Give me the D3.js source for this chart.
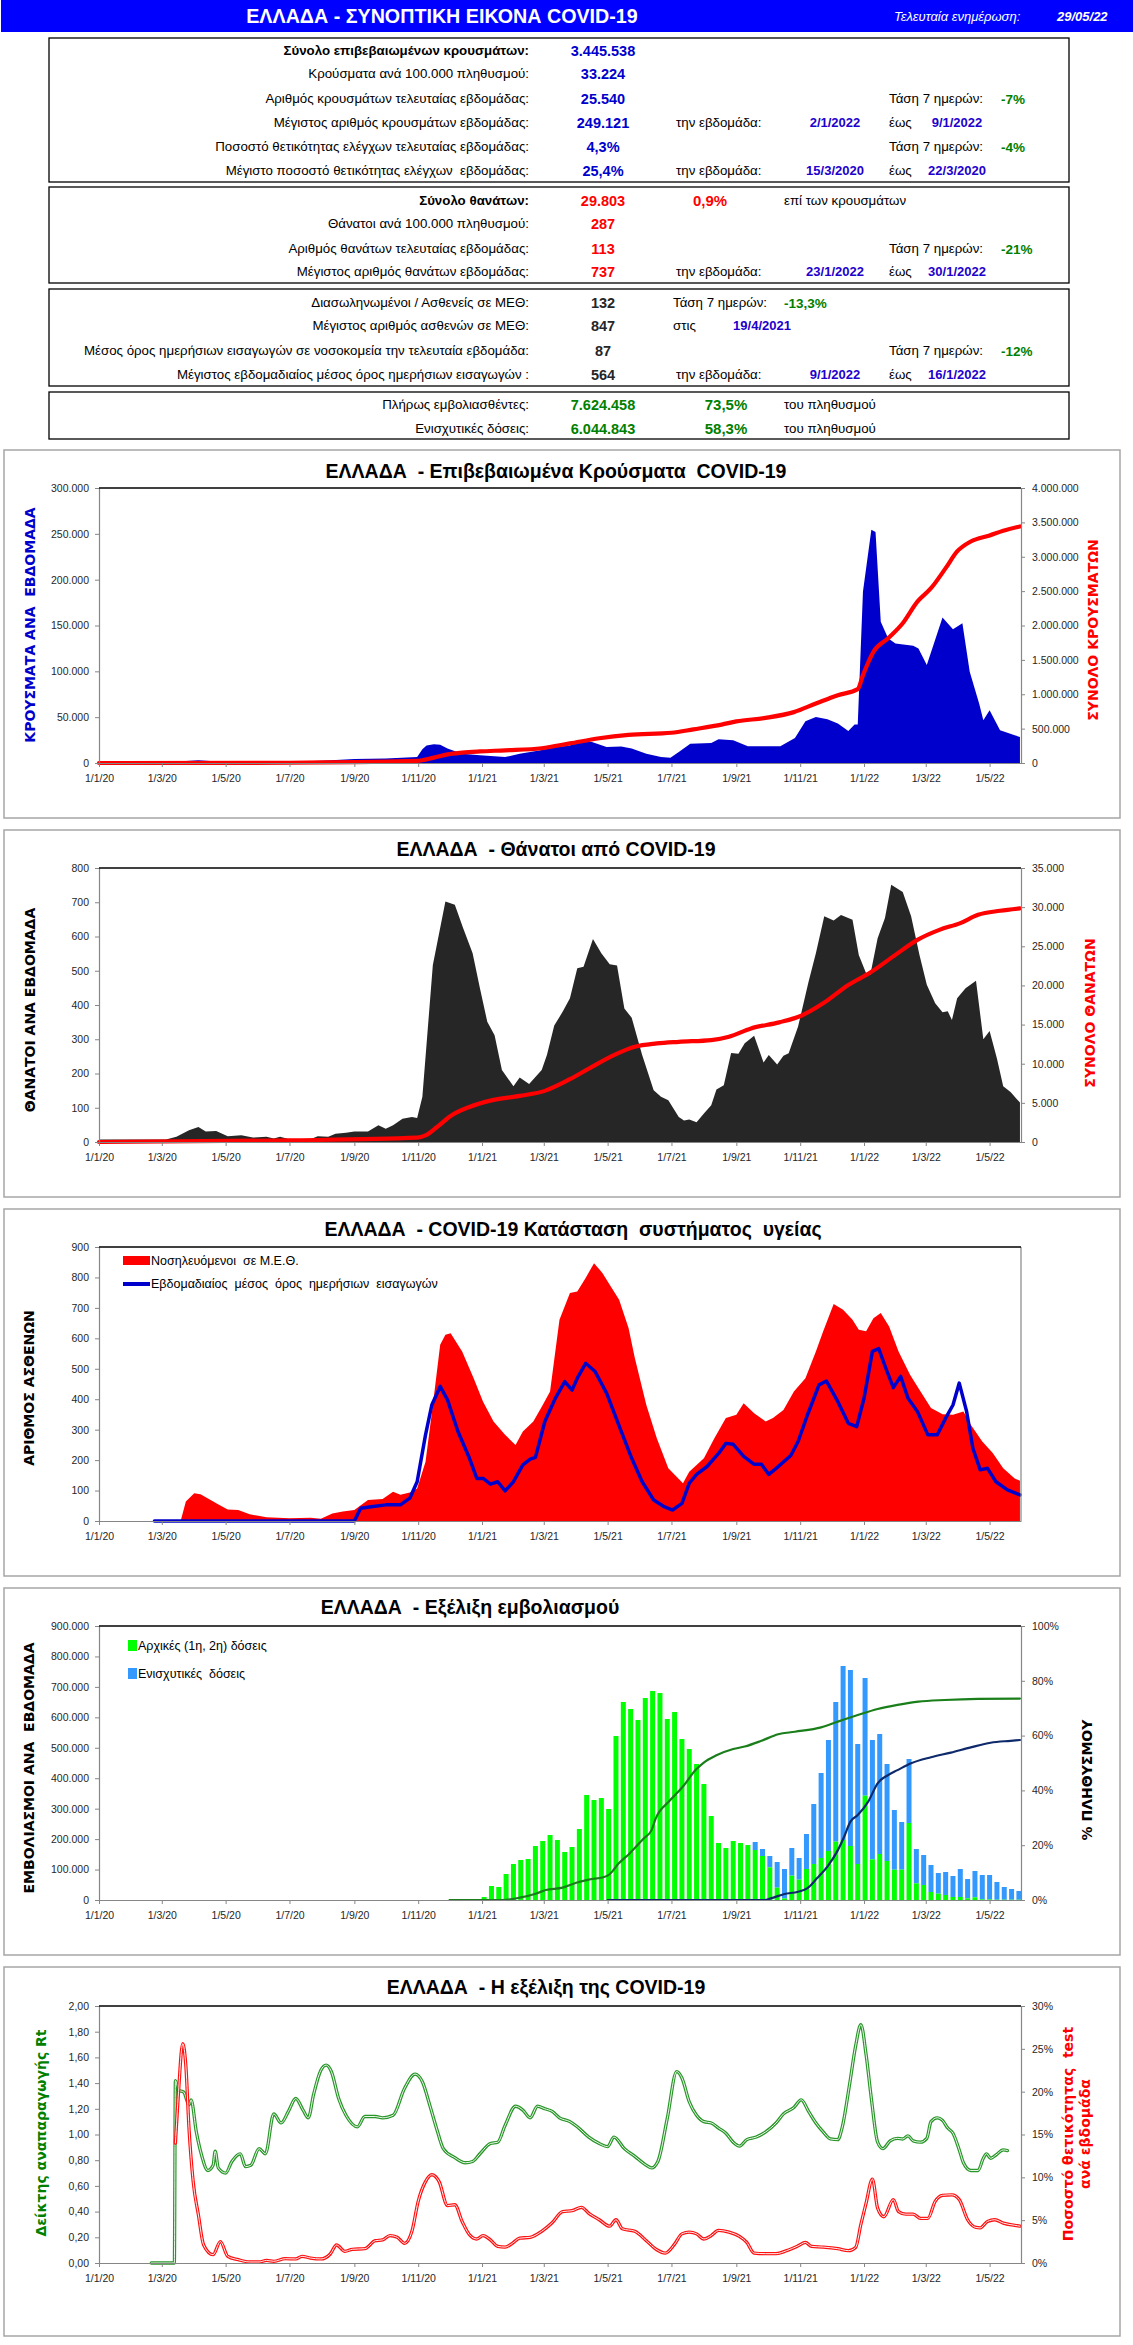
<!DOCTYPE html>
<html><head><meta charset="utf-8">
<script src="https://cdn.jsdelivr.net/npm/d3@7"></script>
<style>body{margin:0;background:#fff} svg text{white-space:pre}</style>
</head><body>
<script>
// ---------------- DATA ----------------
const lastUpdate = "29/05/22";

// Summary table (texts and values)
const caseRows = [
  {label:"Σύνολο επιβεβαιωμένων κρουσμάτων:", value:"3.445.538", bold:true},
  {label:"Κρούσματα ανά 100.000 πληθυσμού:", value:"33.224"},
  {label:"Αριθμός κρουσμάτων τελευταίας εβδομάδας:", value:"25.540", trend:"-7%"},
  {label:"Μέγιστος αριθμός κρουσμάτων εβδομάδας:", value:"249.121", from:"2/1/2022", to:"9/1/2022"},
  {label:"Ποσοστό θετικότητας ελέγχων τελευταίας εβδομάδας:", value:"4,3%", trend:"-4%"},
  {label:"Μέγιστο ποσοστό θετικότητας ελέγχων  εβδομάδας:", value:"25,4%", from:"15/3/2020", to:"22/3/2020"}
];
const deathRows = [
  {label:"Σύνολο θανάτων:", value:"29.803", bold:true, pct:"0,9%", note:"επί των κρουσμάτων"},
  {label:"Θάνατοι ανά 100.000 πληθυσμού:", value:"287"},
  {label:"Αριθμός θανάτων τελευταίας εβδομάδας:", value:"113", trend:"-21%"},
  {label:"Μέγιστος αριθμός θανάτων εβδομάδας:", value:"737", from:"23/1/2022", to:"30/1/2022"}
];
const icuRows = [
  {label:"Διασωληνωμένοι / Ασθενείς σε ΜΕΘ:", value:"132", nearTrend:"-13,3%"},
  {label:"Μέγιστος αριθμός ασθενών σε ΜΕΘ:", value:"847", onDate:"19/4/2021"},
  {label:"Μέσος όρος ημερήσιων εισαγωγών σε νοσοκομεία την τελευταία εβδομάδα:", value:"87", trend:"-12%"},
  {label:"Μέγιστος εβδομαδιαίος μέσος όρος ημερήσιων εισαγωγών :", value:"564", from:"9/1/2022", to:"16/1/2022"}
];
const vaxRows = [
  {label:"Πλήρως εμβολιασθέντες:", value:"7.624.458", pct:"73,5%", note:"του πληθυσμού"},
  {label:"Ενισχυτικές δόσεις:", value:"6.044.843", pct:"58,3%", note:"του πληθυσμού"}
];

// Chart 1: weekly cases and total cases
const casesWeekly = [
  ["2020-01-05",1500],["2020-03-20",1800],["2020-04-05",3000],["2020-04-20",2000],["2020-06-30",1500],
  ["2020-08-01",2500],["2020-09-01",4500],["2020-10-01",5000],["2020-10-31",6500],["2020-11-05",15000],
  ["2020-11-09",19000],["2020-11-16",20400],["2020-11-22",20000],["2020-11-29",15700],["2020-12-13",10000],
  ["2020-12-30",8400],["2021-01-23",6500],["2021-02-06",10000],["2021-02-26",13800],["2021-03-13",17500],
  ["2021-03-26",19000],["2021-04-02",23700],["2021-04-16",23000],["2021-04-30",17500],["2021-05-14",18000],
  ["2021-05-24",15700],["2021-06-07",10000],["2021-06-21",6600],["2021-06-30",5800],["2021-07-08",12000],
  ["2021-07-19",21000],["2021-08-08",21900],["2021-08-15",26000],["2021-08-29",24800],["2021-09-12",18200],
  ["2021-10-13",18200],["2021-10-27",27300],["2021-11-06",45600],["2021-11-16",50300],["2021-11-27",47800],
  ["2021-12-07",43000],["2021-12-17",35000],["2021-12-23",42000],["2021-12-26",42000],["2021-12-31",187000],
  ["2022-01-08",254500],["2022-01-12",252000],["2022-01-17",154000],["2022-01-24",136000],["2022-01-31",130500],
  ["2022-02-17",128000],["2022-02-22",125000],["2022-03-02",107000],["2022-03-17",158600],["2022-03-27",146000],
  ["2022-04-05",152500],["2022-04-12",99500],["2022-04-21",65000],["2022-04-25",46700],["2022-05-01",57600],
  ["2022-05-11",35700],["2022-05-25",30300],["2022-05-30",28400]
];
const casesTotal = [
  ["2020-01-01",0],["2020-07-01",4000],["2020-10-31",30000],["2020-11-16",78000],["2020-11-29",125000],
  ["2020-12-13",150000],["2020-12-30",168000],["2021-01-23",185000],["2021-02-27",215000],["2021-03-26",285000],
  ["2021-04-23",360000],["2021-05-21",410000],["2021-07-01",440000],["2021-07-22",490000],["2021-08-18",559000],
  ["2021-09-01",605000],["2021-09-29",656000],["2021-10-26",740000],["2021-11-16",865000],["2021-12-07",987000],
  ["2021-12-26",1074000],["2021-12-31",1278000],["2022-01-10",1618000],["2022-01-24",1813000],["2022-02-07",2032000],
  ["2022-02-21",2347000],["2022-03-06",2542000],["2022-03-20",2834000],["2022-03-31",3077000],["2022-04-13",3222000],
  ["2022-05-01",3310000],["2022-05-14",3378000],["2022-05-30",3441000]
];

// Chart 2: weekly deaths and total deaths
const deathsWeekly = [
  ["2020-01-01",7],["2020-03-05",7],["2020-03-15",15],["2020-03-27",34],["2020-04-05",44],["2020-04-12",31],
  ["2020-04-22",32],["2020-05-03",17],["2020-05-16",20],["2020-05-27",13],["2020-06-09",15],["2020-06-16",10],
  ["2020-06-22",15],["2020-07-01",8],["2020-07-21",8],["2020-07-28",17],["2020-08-07",15],["2020-08-14",24],
  ["2020-08-24",27],["2020-09-01",31],["2020-09-14",31],["2020-09-24",49],["2020-10-01",39],["2020-10-08",49],
  ["2020-10-17",68],["2020-10-26",73],["2020-10-31",70],["2020-11-05",132],["2020-11-15",517],["2020-11-27",702],
  ["2020-12-06",693],["2020-12-14",624],["2020-12-23",551],["2020-12-30",449],["2021-01-06",351],["2021-01-13",312],
  ["2021-01-20",210],["2021-01-31",163],["2021-02-06",188],["2021-02-15",169],["2021-02-27",210],["2021-03-04",254],
  ["2021-03-11",340],["2021-03-19",380],["2021-03-26",420],["2021-04-02",507],["2021-04-08",512],["2021-04-17",593],
  ["2021-04-25",551],["2021-05-03",519],["2021-05-10",515],["2021-05-17",390],["2021-05-24",363],["2021-06-03",254],
  ["2021-06-14",151],["2021-06-21",132],["2021-06-28",122],["2021-07-08",73],["2021-07-13",63],["2021-07-18",66],
  ["2021-07-25",58],["2021-08-01",83],["2021-08-08",107],["2021-08-13",153],["2021-08-20",166],["2021-08-27",260],
  ["2021-09-03",258],["2021-09-09",288],["2021-09-18",310],["2021-09-27",232],["2021-10-02",254],["2021-10-10",226],
  ["2021-10-16",252],["2021-10-21",259],["2021-10-30",337],["2021-11-09",468],["2021-11-16",551],["2021-11-24",659],
  ["2021-12-03",647],["2021-12-10",663],["2021-12-21",649],["2021-12-27",546],["2022-01-03",493],["2022-01-07",488],
  ["2022-01-14",595],["2022-01-21",654],["2022-01-27",751],["2022-02-07",730],["2022-02-15",659],["2022-02-23",546],
  ["2022-03-02",459],["2022-03-10",405],["2022-03-17",379],["2022-03-22",382],["2022-03-26",356],["2022-03-31",420],
  ["2022-04-08",449],["2022-04-18",471],["2022-04-25",300],["2022-05-01",324],["2022-05-08",244],["2022-05-14",163],
  ["2022-05-21",146],["2022-05-30",115]
];
const deathsTotal = [
  ["2020-01-01",0],["2020-07-01",200],["2020-10-31",550],["2020-11-08",850],["2020-11-19",1920],["2020-12-02",3330],
  ["2020-12-20",4480],["2021-01-09",5290],["2021-02-06",5890],["2021-03-02",6530],["2021-03-26",8020],["2021-04-16",9600],
  ["2021-05-07",11100],["2021-05-27",12165],["2021-06-17",12590],["2021-07-08",12800],["2021-08-08",13020],["2021-08-25",13445],
  ["2021-09-15",14510],["2021-10-12",15280],["2021-11-02",16130],["2021-11-23",17710],["2021-12-17",20060],["2022-01-07",21640],
  ["2022-01-31",23900],["2022-02-21",25820],["2022-03-14",27100],["2022-04-03",27960],["2022-04-20",29020],["2022-05-11",29540],
  ["2022-05-30",29850]
];

// Chart 3: ICU patients and weekly average of daily admissions
const icuPatients = [
  ["2020-03-19",0],["2020-03-24",64],["2020-04-01",91],["2020-04-07",88],["2020-04-15",72],["2020-04-22",58],
  ["2020-05-03",38],["2020-05-13",36],["2020-05-24",22],["2020-06-09",12],["2020-07-01",9],["2020-07-21",11],
  ["2020-07-31",7],["2020-08-11",25],["2020-08-21",31],["2020-09-01",36],["2020-09-14",69],["2020-09-28",72],
  ["2020-10-08",96],["2020-10-15",86],["2020-10-24",94],["2020-10-31",107],["2020-11-08",195],["2020-11-15",381],
  ["2020-11-22",579],["2020-11-27",612],["2020-12-02",617],["2020-12-13",557],["2020-12-24",469],["2021-01-02",392],
  ["2021-01-12",327],["2021-01-23",283],["2021-02-02",250],["2021-02-09",294],["2021-02-19",327],["2021-02-28",381],
  ["2021-03-07",425],["2021-03-16",661],["2021-03-26",749],["2021-04-02",754],["2021-04-10",798],["2021-04-18",847],
  ["2021-04-26",815],["2021-05-03",776],["2021-05-12",727],["2021-05-21",634],["2021-05-27",535],["2021-06-07",381],
  ["2021-06-17",272],["2021-06-28",173],["2021-07-12",124],["2021-07-18",162],["2021-08-01",206],["2021-08-11",272],
  ["2021-08-22",338],["2021-09-01",349],["2021-09-08",387],["2021-09-18",354],["2021-09-29",327],["2021-10-06",338],
  ["2021-10-16",365],["2021-10-26",425],["2021-11-06",469],["2021-11-16",557],["2021-11-23",623],["2021-12-03",713],
  ["2021-12-12",694],["2021-12-21",661],["2021-12-27",628],["2022-01-03",623],["2022-01-10",666],["2022-01-17",683],
  ["2022-01-25",639],["2022-02-03",557],["2022-02-14",480],["2022-02-24",425],["2022-03-06",371],["2022-03-17",351],
  ["2022-03-27",349],["2022-04-06",360],["2022-04-13",316],["2022-04-24",261],["2022-05-04",223],["2022-05-14",173],
  ["2022-05-25",140],["2022-05-30",132]
];
const admissionsAvg = [
  ["2020-02-23",0],["2020-09-01",0],["2020-09-07",42],["2020-09-17",47],["2020-10-01",53],["2020-10-15",53],
  ["2020-10-24",75],["2020-10-31",129],["2020-11-08",283],["2020-11-14",381],["2020-11-22",442],["2020-11-29",398],
  ["2020-12-09",294],["2020-12-20",206],["2020-12-27",140],["2021-01-02",140],["2021-01-09",121],["2021-01-16",129],
  ["2021-01-23",99],["2021-01-31",129],["2021-02-09",184],["2021-02-16",203],["2021-02-21",209],["2021-03-02",327],
  ["2021-03-12",403],["2021-03-21",458],["2021-03-28",430],["2021-04-02",469],["2021-04-10",518],["2021-04-19",491],
  ["2021-04-30",420],["2021-05-14",294],["2021-05-24",206],["2021-06-03",129],["2021-06-14",69],["2021-06-24",47],
  ["2021-07-02",36],["2021-07-11",58],["2021-07-18",124],["2021-07-25",153],["2021-08-04",179],["2021-08-15",222],
  ["2021-08-22",255],["2021-08-29",252],["2021-09-08",212],["2021-09-18",186],["2021-09-25",186],["2021-10-02",153],
  ["2021-10-09",173],["2021-10-23",215],["2021-10-30",261],["2021-11-08",349],["2021-11-19",447],["2021-11-26",460],
  ["2021-12-07",392],["2021-12-17",321],["2021-12-25",310],["2022-01-01",403],["2022-01-09",557],["2022-01-15",566],
  ["2022-01-23",491],["2022-01-29",438],["2022-02-05",475],["2022-02-12",403],["2022-02-21",360],["2022-03-03",283],
  ["2022-03-12",283],["2022-03-20",338],["2022-03-27",381],["2022-04-02",453],["2022-04-09",360],["2022-04-15",239],
  ["2022-04-22",168],["2022-04-29",173],["2022-05-07",129],["2022-05-18",102],["2022-05-30",86]
];

// Chart 4: weekly vaccinations (primary and booster doses) and coverage
const vaxWeeks = [
  "2021-01-03","2021-01-10","2021-01-17","2021-01-24","2021-01-31","2021-02-07","2021-02-14","2021-02-21","2021-02-28",
  "2021-03-07","2021-03-14","2021-03-21","2021-03-28","2021-04-04","2021-04-11","2021-04-18","2021-04-25",
  "2021-05-02","2021-05-09","2021-05-16","2021-05-23","2021-05-30","2021-06-06","2021-06-13","2021-06-20","2021-06-27",
  "2021-07-04","2021-07-11","2021-07-18","2021-07-25","2021-08-01","2021-08-08","2021-08-15","2021-08-22","2021-08-29",
  "2021-09-05","2021-09-12","2021-09-19","2021-09-26","2021-10-03","2021-10-10","2021-10-17","2021-10-24","2021-10-31",
  "2021-11-07","2021-11-14","2021-11-21","2021-11-28","2021-12-05","2021-12-12","2021-12-19","2021-12-26",
  "2022-01-02","2022-01-09","2022-01-16","2022-01-23","2022-01-30","2022-02-06","2022-02-13","2022-02-20","2022-02-27",
  "2022-03-06","2022-03-13","2022-03-20","2022-03-27","2022-04-03","2022-04-10","2022-04-17","2022-04-24",
  "2022-05-01","2022-05-08","2022-05-15","2022-05-22","2022-05-29"
];
const primaryDoses = [
  9900,46000,42700,85400,118200,131400,134700,177400,193800,213500,197100,157700,174100,233200,344900,328500,335000,
  298900,538700,650400,627400,591200,663500,686500,679900,594500,617500,528800,496000,446700,381000,275900,187200,
  170800,193800,187200,180700,164200,144500,107300,40500,5000,79900,66800,101800,118200,138000,161000,191600,197100,
  177400,118200,342700,133600,151100,128100,99600,99600,252900,54700,49300,26300,20800,16400,9900,9900,5500,8800,
  2000,2000,1000,1000,1000,1000
];
const boosterDoses = [
  0,0,0,0,0,0,0,0,0,0,0,0,0,0,0,0,0,0,0,0,0,0,0,0,0,0,0,0,0,0,0,0,0,0,0,0,0,
  26300,23000,37200,84300,96800,90900,71200,115000,197100,279200,364600,458800,571500,578100,394200,386500,392000,
  394200,318600,196000,156600,210200,112800,98500,88700,67900,75600,68900,91900,63500,86500,80100,80100,58100,41700,
  35100,28600
];
const fullyVaccinatedPct = [
  ["2020-12-01",0],["2021-01-21",0],["2021-02-06",0.85],["2021-02-22",2.4],["2021-03-03",3.65],["2021-03-19",4.5],
  ["2021-04-01",6.3],["2021-04-14",7.5],["2021-04-27",8.3],["2021-05-03",9.4],["2021-05-11",13.1],["2021-05-22",17.0],
  ["2021-06-04",22.3],["2021-06-12",25.5],["2021-06-16",29.8],["2021-06-29",36.1],["2021-07-12",41.4],["2021-07-24",47.4],
  ["2021-07-31",49.9],["2021-08-13",52.8],["2021-08-29",55.1],["2021-09-09",56.0],["2021-09-25",58.1],["2021-10-11",60.5],
  ["2021-10-27",61.4],["2021-11-21",63.0],["2021-12-07",65.1],["2021-12-26",67.5],["2022-01-14",69.7],["2022-02-02",71.2],
  ["2022-02-22",72.4],["2022-03-19",73.0],["2022-04-20",73.4],["2022-05-30",73.5]
];
const boosterPct = [
  ["2021-05-01",0],["2021-09-28",0],["2021-10-04",0.6],["2021-10-17",2.2],["2021-10-30",3.0],["2021-11-08",4.3],
  ["2021-11-17",7.9],["2021-11-27",12.2],["2021-12-07",18.2],["2021-12-13",23.1],["2021-12-19",28.6],["2021-12-26",31.0],
  ["2022-01-05",35.9],["2022-01-14",42.6],["2022-01-24",45.6],["2022-02-02",47.4],["2022-02-15",49.9],["2022-03-06",52.1],
  ["2022-03-25",53.8],["2022-04-13",55.7],["2022-05-02",57.4],["2022-05-21",58.1],["2022-05-30",58.4]
];

// Chart 5: reproduction number Rt and weekly test positivity (%)
const rtIndex = [
  ["2020-02-20",0],["2020-03-13",0],["2020-03-14",1.42],["2020-03-17",1.345],["2020-03-22",1.33],["2020-03-27",1.23],
  ["2020-03-29",1.27],["2020-04-03",1.02],["2020-04-08",0.84],["2020-04-14",0.72],["2020-04-19",0.76],["2020-04-21",0.87],
  ["2020-04-24",0.74],["2020-05-01",0.70],["2020-05-07",0.79],["2020-05-15",0.85],["2020-05-20",0.75],["2020-05-25",0.76],
  ["2020-06-02",0.89],["2020-06-08",0.85],["2020-06-16",1.16],["2020-06-23",1.09],["2020-06-30",1.18],["2020-07-07",1.28],
  ["2020-07-14",1.19],["2020-07-19",1.13],["2020-07-24",1.31],["2020-07-31",1.50],["2020-08-05",1.54],["2020-08-10",1.49],
  ["2020-08-17",1.28],["2020-08-24",1.15],["2020-09-04",1.06],["2020-09-11",1.14],["2020-09-21",1.14],["2020-09-28",1.13],
  ["2020-10-08",1.15],["2020-10-19",1.36],["2020-10-29",1.47],["2020-11-05",1.41],["2020-11-12",1.23],["2020-11-19",1.035],
  ["2020-11-25",0.89],["2020-12-06",0.82],["2020-12-16",0.78],["2020-12-23",0.79],["2020-12-30",0.85],["2021-01-09",0.93],
  ["2021-01-16",0.94],["2021-01-23",1.07],["2021-02-02",1.22],["2021-02-09",1.19],["2021-02-16",1.13],["2021-02-23",1.22],
  ["2021-03-02",1.20],["2021-03-09",1.18],["2021-03-16",1.13],["2021-03-26",1.10],["2021-04-02",1.06],["2021-04-13",0.98],
  ["2021-04-23",0.93],["2021-05-01",0.905],["2021-05-07",0.98],["2021-05-17",0.89],["2021-05-27",0.83],["2021-06-07",0.76],
  ["2021-06-12",0.74],["2021-06-18",0.79],["2021-06-27",1.125],["2021-07-06",1.49],["2021-07-11",1.44],["2021-07-18",1.255],
  ["2021-07-25",1.15],["2021-08-01",1.10],["2021-08-08",1.09],["2021-08-15",1.05],["2021-08-22",1.01],["2021-08-29",0.94],
  ["2021-09-04",0.91],["2021-09-11",0.96],["2021-09-20",0.98],["2021-09-29",1.02],["2021-10-09",1.09],["2021-10-16",1.16],
  ["2021-10-26",1.21],["2021-11-02",1.27],["2021-11-09",1.18],["2021-11-16",1.09],["2021-11-23",1.02],["2021-11-30",0.965],
  ["2021-12-07",0.96],["2021-12-11",1.05],["2021-12-18",1.38],["2021-12-24",1.69],["2021-12-29",1.855],["2022-01-03",1.62],
  ["2022-01-08",1.28],["2022-01-14",0.94],["2022-01-19",0.89],["2022-01-26",0.95],["2022-02-02",0.97],["2022-02-07",0.965],
  ["2022-02-12",0.99],["2022-02-17",0.95],["2022-02-24",0.94],["2022-03-02",0.97],["2022-03-06",1.10],["2022-03-12",1.13],
  ["2022-03-17",1.11],["2022-03-22",1.05],["2022-03-27",1.01],["2022-04-02",0.88],["2022-04-06",0.78],["2022-04-13",0.72],
  ["2022-04-20",0.72],["2022-04-25",0.815],["2022-04-28",0.85],["2022-05-02",0.815],["2022-05-07",0.84],["2022-05-14",0.88],
  ["2022-05-18",0.875]
];
const positivityPct = [
  ["2020-03-14",14],["2020-03-17",20],["2020-03-21",25.6],["2020-03-24",23],["2020-03-27",15.7],["2020-03-31",9.5],
  ["2020-04-05",5.6],["2020-04-10",2.1],["2020-04-19",0.97],["2020-04-26",2.5],["2020-05-03",0.78],["2020-05-13",0.39],
  ["2020-05-24",0.12],["2020-06-02",0.12],["2020-06-09",0.3],["2020-06-16",0.2],["2020-06-27",0.5],["2020-07-07",0.47],
  ["2020-07-13",0.78],["2020-07-21",0.58],["2020-07-31",0.47],["2020-08-09",1.05],["2020-08-15",2.1],["2020-08-23",1.36],
  ["2020-08-30",1.6],["2020-09-11",1.67],["2020-09-21",2.6],["2020-09-28",2.7],["2020-10-05",3.2],["2020-10-12",3.0],
  ["2020-10-19",2.3],["2020-10-26",3.7],["2020-11-01",7.2],["2020-11-08",9.5],["2020-11-14",10.3],["2020-11-21",9.5],
  ["2020-11-29",6.7],["2020-12-06",6.8],["2020-12-13",4.85],["2020-12-20",3.3],["2020-12-27",2.8],["2021-01-02",3.2],
  ["2021-01-09",2.7],["2021-01-16",1.94],["2021-01-23",1.86],["2021-01-30",2.3],["2021-02-06",2.9],["2021-02-16",3.0],
  ["2021-02-27",3.7],["2021-03-09",4.7],["2021-03-19",6.0],["2021-03-28",6.1],["2021-04-06",6.5],["2021-04-13",5.8],
  ["2021-04-23",5.05],["2021-05-03",4.3],["2021-05-09",5.05],["2021-05-15",4.0],["2021-05-27",3.7],["2021-06-07",2.6],
  ["2021-06-17",1.55],["2021-06-25",1.16],["2021-07-04",2.2],["2021-07-11",3.4],["2021-07-18",3.6],["2021-07-25",3.4],
  ["2021-08-01",2.8],["2021-08-08",3.2],["2021-08-15",3.8],["2021-08-25",3.6],["2021-09-04",3.1],["2021-09-11",2.4],
  ["2021-09-18",1.16],["2021-09-29",1.09],["2021-10-09",1.09],["2021-10-19",1.44],["2021-10-30",2.0],["2021-11-06",2.4],
  ["2021-11-12",1.94],["2021-11-23",1.86],["2021-12-07",1.67],["2021-12-17",1.44],["2021-12-24",1.82],["2021-12-29",4.5],
  ["2022-01-03",7.0],["2022-01-09",9.8],["2022-01-14",6.4],["2022-01-20",5.4],["2022-01-29",7.4],["2022-02-03",6.0],
  ["2022-02-10",5.7],["2022-02-17",5.7],["2022-02-24",5.2],["2022-03-03",5.2],["2022-03-10",7.2],["2022-03-17",7.9],
  ["2022-03-26",7.96],["2022-04-02",7.4],["2022-04-10",5.05],["2022-04-18",4.15],["2022-04-22",4.1],["2022-04-29",4.85],
  ["2022-05-06",5.05],["2022-05-14",4.66],["2022-05-25",4.4],["2022-05-30",4.3]
];

// Axis tick values
const casesTicks = [0,50000,100000,150000,200000,250000,300000];
const casesTotalTicks = [0,500000,1000000,1500000,2000000,2500000,3000000,3500000,4000000];
const deathsTicks = [0,100,200,300,400,500,600,700,800];
const deathsTotalTicks = [0,5000,10000,15000,20000,25000,30000,35000];
const icuTicks = [0,100,200,300,400,500,600,700,800,900];
const vaxTicks = [0,100000,200000,300000,400000,500000,600000,700000,800000,900000];
const vaxPctTicks = [0,20,40,60,80,100];
const rtTicks = [0,0.2,0.4,0.6,0.8,1.0,1.2,1.4,1.6,1.8,2.0];
const posTicks = [0,5,10,15,20,25,30];

// ---------------- DRAWING ----------------
const FONT = "'Liberation Sans', Arial, sans-serif";
const WIDE = "'DejaVu Sans', Verdana, sans-serif";
const W = 1133, H = 2345;
const parse = d3.timeParse("%Y-%m-%d");
const loc = d3.formatLocale({decimal:",", thousands:".", grouping:[3], currency:["","€"]});
const fInt = loc.format(",.0f");
const f2 = loc.format(",.2f");

const svg = d3.select("body").append("svg").attr("width", W).attr("height", H).style("display","block");
svg.append("rect").attr("width", W).attr("height", H).attr("fill", "#fff");

function txt(g, x, y, s, o = {}) {
  return g.append("text").attr("x", x).attr("y", y).text(s)
    .attr("text-anchor", o.anchor || "start")
    .attr("font-family", o.family || FONT)
    .attr("font-size", o.size || 13.3)
    .attr("font-weight", o.weight || "normal")
    .attr("font-style", o.style || "normal")
    .attr("fill", o.fill || "#000");
}

// Header
svg.append("rect").attr("x", 1).attr("y", 0).attr("width", W - 1).attr("height", 32).attr("fill", "#0000ff");
txt(svg, 442, 23, "ΕΛΛΑΔΑ - ΣΥΝΟΠΤΙΚΗ ΕΙΚΟΝΑ COVID-19", {anchor:"middle", size:19.7, weight:"bold", fill:"#fff"});
txt(svg, 894, 21, "Τελευταία ενημέρωση:", {size:13, style:"italic", fill:"#fff"});
txt(svg, 1057, 21, lastUpdate, {size:13, style:"italic", weight:"bold", fill:"#fff"});

// Summary boxes
const C = {labelR:529, valC:603, week:676, fromC:835, eos:889, toC:957, trendL:889, trendV:1001};
const BLUE_V = "#0000cc", DATE_C = "#2200cc", GREEN = "#008000", RED = "#ff0000";
function box(y0, y1) {
  svg.append("rect").attr("x", 49).attr("y", y0).attr("width", 1020).attr("height", y1 - y0)
    .attr("fill", "none").attr("stroke", "#000").attr("stroke-width", 1.3);
}
function rows(list, ys, valColor) {
  list.forEach((r, i) => {
    const y = ys[i];
    txt(svg, C.labelR, y, r.label, {anchor:"end", weight: r.bold ? "bold" : "normal"});
    txt(svg, C.valC, y + 1, r.value, {anchor:"middle", size:14.5, weight:"bold", fill:valColor});
    if (r.trend) {
      txt(svg, C.trendL, y, "Τάση 7 ημερών:");
      txt(svg, C.trendV, y + 1, r.trend, {size:13.5, weight:"bold", fill:GREEN});
    }
    if (r.from) {
      txt(svg, C.week, y, "την εβδομάδα:");
      txt(svg, C.fromC, y, r.from, {anchor:"middle", size:13, weight:"bold", fill:DATE_C});
      txt(svg, C.eos, y, "έως");
      txt(svg, C.toC, y, r.to, {anchor:"middle", size:13, weight:"bold", fill:DATE_C});
    }
    if (r.nearTrend) {
      txt(svg, 673, y, "Τάση 7 ημερών:");
      txt(svg, 784, y + 1, r.nearTrend, {size:13.5, weight:"bold", fill:GREEN});
    }
    if (r.onDate) {
      txt(svg, 673, y, "στις");
      txt(svg, 762, y, r.onDate, {anchor:"middle", size:13, weight:"bold", fill:DATE_C});
    }
  });
}
box(38, 182); rows(caseRows, [55, 78, 103, 127, 151, 175], BLUE_V);
box(187, 283); rows(deathRows, [205, 228, 253, 276], RED);
txt(svg, 710, 206, deathRows[0].pct, {anchor:"middle", size:15, weight:"bold", fill:RED});
txt(svg, 784, 205, deathRows[0].note);
box(289, 386); rows(icuRows, [307, 330, 355, 379], "#262626");
box(392, 439); rows(vaxRows, [409, 433], GREEN);
vaxRows.forEach((r, i) => {
  const y = [409, 433][i];
  txt(svg, 726, y + 1, r.pct, {anchor:"middle", size:15, weight:"bold", fill:GREEN});
  txt(svg, 784, y, r.note);
});

// Chart scaffolding
const x = d3.scaleTime().domain([parse("2020-01-01"), parse("2022-05-31")]).range([99, 1021]);
const xTicks = d3.timeMonth.every(2).range(parse("2020-01-01"), parse("2022-05-02"));
const fDate = d => `${d.getDate()}/${d.getMonth() + 1}/${String(d.getFullYear()).slice(2)}`;
const PL = 99, PR = 1021;

function styleAxis(g) {
  g.attr("font-family", FONT).attr("font-size", 10.5);
  g.selectAll("path.domain").attr("stroke", "#868686").attr("stroke-width", 1.2);
  g.selectAll(".tick line").attr("stroke", "#868686");
  g.selectAll(".tick text").attr("fill", "#262626");
}
function frame(y0, y1, title, titleX, titleY) {
  svg.append("rect").attr("x", 4).attr("y", y0).attr("width", 1116).attr("height", y1 - y0)
    .attr("fill", "#fff").attr("stroke", "#a6a6a6").attr("stroke-width", 1.5);
  txt(svg, titleX, titleY, title, {anchor:"middle", size:19.5, weight:"bold"});
}
function vTitle(xc, yc, s, color, size) {
  svg.append("text").attr("transform", `translate(${xc},${yc}) rotate(-90)`).attr("dy", "0.36em")
    .attr("text-anchor", "middle").attr("font-family", WIDE).attr("font-weight", "bold")
    .attr("font-size", size || 14).attr("fill", color).text(s);
}
function axes(top, bottom, yL, ticksL, fmtL, yR, ticksR, fmtR) {
  const gx = svg.append("g").attr("transform", `translate(0,${bottom})`)
    .call(d3.axisBottom(x).tickValues(xTicks).tickFormat(fDate).tickSize(4).tickSizeOuter(0).tickPadding(8));
  styleAxis(gx);
  const gl = svg.append("g").attr("transform", `translate(${PL},0)`)
    .call(d3.axisLeft(yL).tickValues(ticksL).tickFormat(fmtL).tickSize(4).tickSizeOuter(0).tickPadding(6));
  styleAxis(gl);
  if (yR) {
    const gr = svg.append("g").attr("transform", `translate(${PR},0)`)
      .call(d3.axisRight(yR).tickValues(ticksR).tickFormat(fmtR).tickSize(4).tickSizeOuter(0).tickPadding(7));
    styleAxis(gr);
  } else {
    svg.append("line").attr("x1", PR).attr("x2", PR).attr("y1", top).attr("y2", bottom)
      .attr("stroke", "#868686").attr("stroke-width", 1.2);
  }
  svg.append("line").attr("x1", PL).attr("x2", PR).attr("y1", top).attr("y2", top)
    .attr("stroke", "#000").attr("stroke-width", 1.5);
}
const pts = arr => arr.map(([d, v]) => ({date: parse(d), v}));
function area(data, y, color) {
  svg.append("path").datum(pts(data))
    .attr("d", d3.area().x(d => x(d.date)).y0(y(0)).y1(d => y(d.v)))
    .attr("fill", color);
}
function line(data, y, color, width, curve) {
  return svg.append("path").datum(pts(data))
    .attr("d", d3.line().x(d => x(d.date)).y(d => y(d.v)).curve(curve || d3.curveMonotoneX))
    .attr("fill", "none").attr("stroke", color).attr("stroke-width", width)
    .attr("stroke-linejoin", "round").attr("stroke-linecap", "round");
}

// ---- Chart 1 ----
{
  const top = 488, bottom = 763;
  frame(450, 818, "ΕΛΛΑΔΑ  - Επιβεβαιωμένα Κρούσματα  COVID-19", 556, 478);
  const yL = d3.scaleLinear().domain([0, 300000]).range([bottom, top]);
  const yR = d3.scaleLinear().domain([0, 4000000]).range([bottom, top]);
  area(casesWeekly, yL, "#0000cc");
  line(casesTotal, yR, "#ff0000", 4.2);
  axes(top, bottom, yL, casesTicks, fInt, yR, casesTotalTicks, fInt);
  vTitle(30, 625, "ΚΡΟΥΣΜΑΤΑ ΑΝΑ  ΕΒΔΟΜΑΔΑ", "#0000cc");
  vTitle(1093, 630, "ΣΥΝΟΛΟ ΚΡΟΥΣΜΑΤΩΝ", "#ff0000");
}
// ---- Chart 2 ----
{
  const top = 868, bottom = 1142;
  frame(830, 1197, "ΕΛΛΑΔΑ  - Θάνατοι από COVID-19", 556, 856);
  const yL = d3.scaleLinear().domain([0, 800]).range([bottom, top]);
  const yR = d3.scaleLinear().domain([0, 35000]).range([bottom, top]);
  area(deathsWeekly, yL, "#262626");
  line(deathsTotal, yR, "#ff0000", 4.2);
  axes(top, bottom, yL, deathsTicks, fInt, yR, deathsTotalTicks, fInt);
  vTitle(30, 1010, "ΘΑΝΑΤΟΙ ΑΝΑ ΕΒΔΟΜΑΔΑ", "#000");
  vTitle(1090, 1013, "ΣΥΝΟΛΟ ΘΑΝΑΤΩΝ", "#ff0000");
}
// ---- Chart 3 ----
{
  const top = 1247, bottom = 1521;
  frame(1209, 1576, "ΕΛΛΑΔΑ  - COVID-19 Κατάσταση  συστήματος  υγείας", 573, 1236);
  const y = d3.scaleLinear().domain([0, 900]).range([bottom, top]);
  area(icuPatients, y, "#ff0000");
  line(admissionsAvg, y, "#0000cc", 3.5, d3.curveLinear);
  axes(top, bottom, y, icuTicks, fInt, null);
  vTitle(29, 1388, "ΑΡΙΘΜΟΣ ΑΣΘΕΝΩΝ", "#000");
  svg.append("rect").attr("x", 123).attr("y", 1256).attr("width", 27).attr("height", 9).attr("fill", "#ff0000");
  txt(svg, 151, 1265, "Νοσηλευόμενοι  σε Μ.Ε.Θ.", {size:12.5});
  svg.append("line").attr("x1", 123).attr("x2", 150).attr("y1", 1284).attr("y2", 1284)
    .attr("stroke", "#0000cc").attr("stroke-width", 4);
  txt(svg, 151, 1288, "Εβδομαδιαίος  μέσος  όρος  ημερήσιων  εισαγωγών", {size:12.5});
}
// ---- Chart 4 ----
{
  const top = 1626, bottom = 1900;
  frame(1588, 1955, "ΕΛΛΑΔΑ  - Εξέλιξη εμβολιασμού", 470, 1614);
  const yL = d3.scaleLinear().domain([0, 900000]).range([bottom, top]);
  const yR = d3.scaleLinear().domain([0, 100]).range([bottom, top]);
  const bw = 5;
  const bars = vaxWeeks.map((d, i) => ({date: parse(d), p: primaryDoses[i], b: boosterDoses[i]}));
  svg.append("g").selectAll("rect").data(bars).join("rect")
    .attr("x", d => x(d.date) - bw / 2).attr("width", bw)
    .attr("y", d => yL(d.p + d.b)).attr("height", d => yL(d.p) - yL(d.p + d.b))
    .attr("fill", "#3399ff");
  svg.append("g").selectAll("rect").data(bars).join("rect")
    .attr("x", d => x(d.date) - bw / 2).attr("width", bw)
    .attr("y", d => yL(d.p)).attr("height", d => yL(0) - yL(d.p))
    .attr("fill", "#00ff00");
  line(fullyVaccinatedPct, yR, "#1a7f1a", 2.2);
  line(boosterPct, yR, "#0f2a6b", 2.2);
  axes(top, bottom, yL, vaxTicks, fInt, yR, vaxPctTicks, d => d + "%");
  vTitle(29, 1768, "ΕΜΒΟΛΙΑΣΜΟΙ ΑΝΑ  ΕΒΔΟΜΑΔΑ", "#000");
  vTitle(1087, 1780, "% ΠΛΗΘΥΣΜΟΥ", "#000");
  svg.append("rect").attr("x", 128).attr("y", 1640).attr("width", 9).attr("height", 11).attr("fill", "#00ff00");
  txt(svg, 138, 1650, "Αρχικές (1η, 2η) δόσεις", {size:12.5});
  svg.append("rect").attr("x", 128).attr("y", 1668).attr("width", 9).attr("height", 11).attr("fill", "#3399ff");
  txt(svg, 138, 1678, "Ενισχυτικές  δόσεις", {size:12.5});
}
// ---- Chart 5 ----
{
  const top = 2006, bottom = 2263;
  frame(1967, 2336, "ΕΛΛΑΔΑ  - Η εξέλιξη της COVID-19", 546, 1994);
  const yL = d3.scaleLinear().domain([0, 2]).range([bottom, top]);
  const yR = d3.scaleLinear().domain([0, 30]).range([bottom, top]);
  line(rtIndex, yL, "#2a962a", 3.3);
  line(rtIndex, yL, "#eef9ee", 1.0);
  line(positivityPct, yR, "#ff1010", 3.3);
  line(positivityPct, yR, "#fff2f2", 1.0);
  axes(top, bottom, yL, rtTicks, f2, yR, posTicks, d => d + "%");
  vTitle(41, 2133, "Δείκτης αναπαραγωγής Rt", "#008000");
  vTitle(1068, 2134, "Ποσοστό θετικότητας  test", "#ff0000");
  vTitle(1085, 2134, "ανά εβδομάδα", "#ff0000");
}
</script>
</body></html>
